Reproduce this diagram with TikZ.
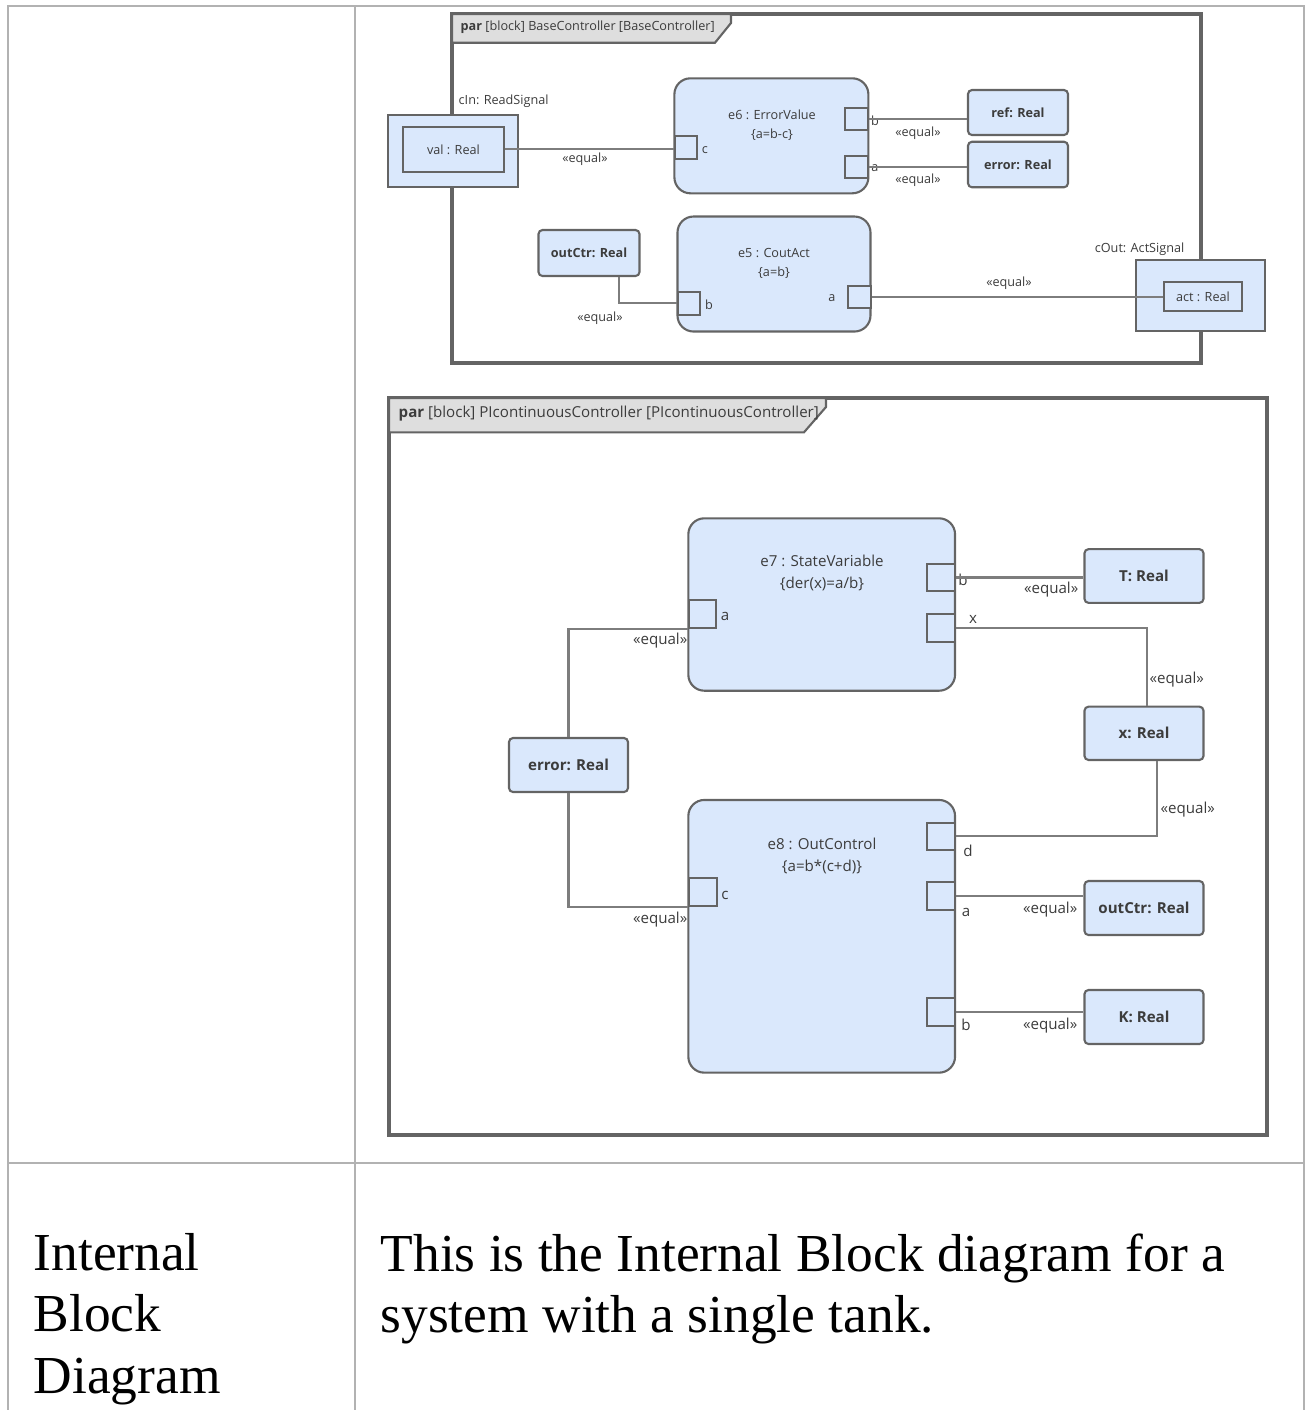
\documentclass[tikz,border=0pt]{standalone}
\usepackage{fontspec}
\setmainfont{Liberation Serif}
\newfontfamily\uifont{Open Sans}
\usetikzlibrary{positioning}
\definecolor{blockfill}{RGB}{218,232,252}
\definecolor{edgegray}{RGB}{100,100,100}
\definecolor{wiregray}{RGB}{125,125,125}
\definecolor{tabfill}{RGB}{222,222,222}
\definecolor{gridgray}{RGB}{178,178,178}
\definecolor{inkgray}{RGB}{60,60,60}
\begin{document}
\begin{tikzpicture}[
 frame/.style={draw=edgegray,line width=0.9pt},
 tab/.style={draw=edgegray,fill=tabfill,line width=0.6pt},
 blk/.style={draw=edgegray,fill=blockfill,line width=0.6pt,rounded corners=0.16cm,inner sep=0pt},
 part/.style={draw=edgegray,fill=blockfill,line width=0.6pt,rounded corners=0.04cm,inner sep=0pt,execute at begin node=\bfseries,text=inkgray},
 sig/.style={draw=edgegray,fill=blockfill,line width=0.6pt,inner sep=0pt,text=inkgray},
 pin/.style={draw=edgegray,fill=blockfill,line width=0.6pt,inner sep=0pt},
 wire/.style={draw=wiregray,line width=0.6pt},
 tag/.style={inner sep=0pt,text=inkgray,align=center},
 grid/.style={draw=gridgray,line width=0.6pt}]
\useasboundingbox (0,0) rectangle (13.07,-14.10);
\draw[grid] (0.08,-14.10) -- (0.08,-0.06) -- (13.04,-0.06) -- (13.04,-14.10);
\draw[grid] (3.55,-0.06) -- (3.55,-14.10);
\draw[grid] (0.08,-11.63) -- (13.04,-11.63);
\begin{scope}[font=\uifont\fontsize{3.6}{5.4}\selectfont]
\draw[frame] (4.52,-0.14) rectangle (12.01,-3.63);
\draw[tab] (4.52,-0.14) -- (7.31,-0.14) -- (7.31,-0.23) -- (7.15,-0.427) -- (4.52,-0.427) -- cycle;
\node[tag,anchor=west] (head1) at (4.60,-0.275) {\textbf{par} [block] BaseController [BaseController]};
\node[sig,minimum width=1.30cm,minimum height=0.715cm] (cin) at (4.53,-1.508) {};
\node[sig,minimum width=1.01cm,minimum height=0.455cm] (val) at (4.535,-1.493) {val : Real};
\node[tag,anchor=west] (cinlbl) at (4.58,-1.01) {cIn: ReadSignal};
\node[blk,minimum width=1.94cm,minimum height=1.15cm] (e6) at (7.714,-1.358) {};
\node[tag] (e6t) at (7.72,-1.255) {e6 : ErrorValue\\\{a=b-c\}};
\node[pin,minimum size=0.225cm] (c6) at (6.86,-1.475) {};
\node[pin,minimum size=0.225cm] (b6) at (8.565,-1.19) {};
\node[pin,minimum size=0.225cm] (a6) at (8.565,-1.67) {};
\node[tag] (c6l) at (7.05,-1.50) {c};
\node[tag] (b6l) at (8.75,-1.21) {b};
\node[tag] (a6l) at (8.75,-1.68) {a};
\node[part,minimum width=1.00cm,minimum height=0.45cm] (ref) at (10.18,-1.125) {ref: Real};
\node[part,minimum width=1.00cm,minimum height=0.455cm] (err1) at (10.18,-1.645) {error: Real};
\node[blk,minimum width=1.93cm,minimum height=1.15cm] (e5) at (7.74,-2.74) {};
\node[tag] (e5t) at (7.74,-2.635) {e5 : CoutAct\\\{a=b\}};
\node[pin,minimum size=0.225cm] (b5) at (6.89,-3.033) {};
\node[pin,minimum size=0.225cm] (a5) at (8.595,-2.97) {};
\node[tag] (b5l) at (7.09,-3.05) {b};
\node[tag] (a5l) at (8.32,-2.98) {a};
\node[part,minimum width=1.01cm,minimum height=0.46cm] (out1) at (5.89,-2.53) {outCtr: Real};
\node[sig,minimum width=1.293cm,minimum height=0.71cm] (cout) at (12.007,-2.958) {};
\node[sig,minimum width=0.783cm,minimum height=0.29cm] (act) at (12.03,-2.965) {act : Real};
\node[tag,anchor=east] (coutlbl) at (11.85,-2.49) {cOut: ActSignal};
\draw[wire] (val.east) -- (val.east -| c6.west);
\draw[wire] (b6.east) -- (b6.east -| ref.west);
\draw[wire] (a6.east) -- (a6.east -| err1.west);
\draw[wire] ([xshift=0.30cm]out1.south) |- (b5.west);
\draw[wire] (a5.east) -- (a5.east -| act.west);
\node[tag] (q1) at (5.85,-1.59) {«equal»};
\node[tag] (q2) at (9.18,-1.33) {«equal»};
\node[tag] (q3) at (9.18,-1.80) {«equal»};
\node[tag] (q4) at (6.00,-3.18) {«equal»};
\node[tag] (q5) at (10.09,-2.83) {«equal»};
\end{scope}
\begin{scope}[font=\uifont\fontsize{4.3}{6.2}\selectfont]
\draw[frame] (3.89,-3.98) rectangle (12.67,-11.35);
\draw[tab] (3.89,-3.98) -- (8.26,-3.98) -- (8.26,-4.07) -- (8.04,-4.323) -- (3.89,-4.323) -- cycle;
\node[tag,anchor=west] (head2) at (3.98,-4.14) {\textbf{par} [block] PIcontinuousController [PIcontinuousController]};
\node[blk,minimum width=2.667cm,minimum height=1.724cm] (e7) at (8.217,-6.045) {};
\node[tag] (e7t) at (8.22,-5.73) {e7 : StateVariable\\\{der(x)=a/b\}};
\node[pin,minimum size=0.275cm] (a7) at (7.025,-6.139) {};
\node[pin,minimum size=0.275cm] (b7) at (9.41,-5.775) {};
\node[pin,minimum size=0.275cm] (x7) at (9.41,-6.28) {};
\node[tag] (a7l) at (7.25,-6.16) {a};
\node[tag] (b7l) at (9.63,-5.80) {b};
\node[tag] (x7l) at (9.73,-6.19) {x};
\node[part,minimum width=1.19cm,minimum height=0.54cm] (err2) at (5.685,-7.65) {error: Real};
\node[part,minimum width=1.19cm,minimum height=0.537cm] (tr) at (11.44,-5.76) {T: Real};
\node[part,minimum width=1.19cm,minimum height=0.533cm] (xr) at (11.44,-7.333) {x: Real};
\node[blk,minimum width=2.667cm,minimum height=2.727cm] (e8) at (8.217,-9.363) {};
\node[tag] (e8t) at (8.22,-8.56) {e8 : OutControl\\\{a=b*(c+d)\}};
\node[pin,minimum size=0.28cm] (c8) at (7.03,-8.92) {};
\node[pin,minimum size=0.275cm] (d8) at (9.41,-8.363) {};
\node[pin,minimum size=0.275cm] (a8) at (9.41,-8.96) {};
\node[pin,minimum size=0.275cm] (b8) at (9.41,-10.12) {};
\node[tag] (c8l) at (7.25,-8.95) {c};
\node[tag] (d8l) at (9.68,-8.51) {d};
\node[tag] (a8l) at (9.66,-9.12) {a};
\node[tag] (b8l) at (9.66,-10.25) {b};
\node[part,minimum width=1.19cm,minimum height=0.54cm] (out2) at (11.44,-9.08) {outCtr: Real};
\node[part,minimum width=1.19cm,minimum height=0.54cm] (kr) at (11.44,-10.17) {K: Real};
\draw[wire] (err2.north) |- (a7.south west);
\draw[wire] (b7.east) -- (b7.east -| tr.west);
\draw[wire] (x7.east) -| ([xshift=0.03cm]xr.north);
\draw[wire] (err2.south) |- (c8.south west);
\draw[wire] ([xshift=0.13cm]xr.south) |- (d8.east);
\draw[wire] (a8.east) -- (a8.east -| out2.west);
\draw[wire] (b8.east) -- (b8.east -| kr.west);
\node[tag,anchor=east] (q6) at (6.88,-6.41) {«equal»};
\node[tag,anchor=east] (q7) at (10.79,-5.90) {«equal»};
\node[tag,anchor=west] (q8) at (11.49,-6.80) {«equal»};
\node[tag,anchor=east] (q9) at (6.88,-9.20) {«equal»};
\node[tag,anchor=west] (q10) at (11.60,-8.10) {«equal»};
\node[tag,anchor=east] (q11) at (10.78,-9.10) {«equal»};
\node[tag,anchor=east] (q12) at (10.78,-10.26) {«equal»};
\end{scope}
\node[anchor=north west,inner sep=0pt,align=left,font=\fontsize{15.2}{17.4}\selectfont] (kind) at (0.33,-12.33) {Internal\\Block\\Diagram};
\node[anchor=north west,inner sep=0pt,align=left,font=\fontsize{15.2}{17.4}\selectfont] (desc) at (3.80,-12.33) {This is the Internal Block diagram for a\\system with a single tank.};
\end{tikzpicture}
\end{document}
